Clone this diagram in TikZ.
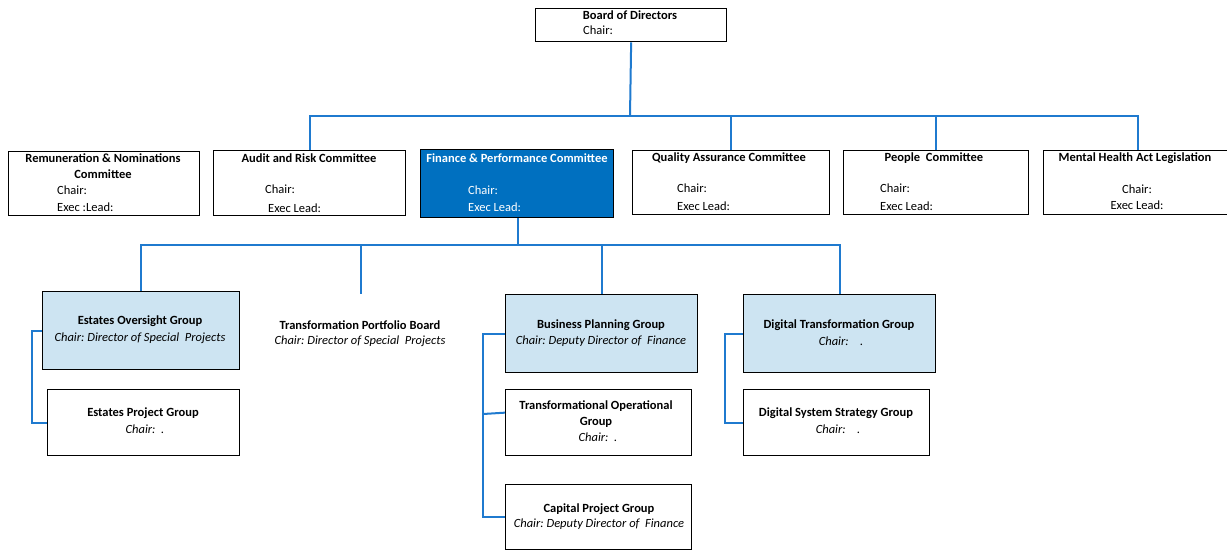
\documentclass[tikz,border=0pt]{standalone}
\usepackage{fontspec}
\setmainfont{Carlito}
\usetikzlibrary{positioning, calc}
\definecolor{azul}{HTML}{0070C0}
\definecolor{celeste}{HTML}{CDE4F2}
\definecolor{linea}{HTML}{1F7ACF}
\frenchspacing
\tikzset{
	every node/.style={
		font=\fontsize{12.5}{16}\selectfont,
		inner sep=0pt
	},
	comite/.style={
		shape=rectangle,
		anchor=north west,
		draw=black,
		line width=1.3pt
	},
	grupo/.style={
		comite,
		fill=celeste
	},
	titulo/.style={
		font=\fontsize{12.5}{16}\selectfont\bfseries,
		align=center
	},
	cargo/.style={
		anchor=west
	},
	presidente/.style={
		font=\fontsize{12.5}{16}\selectfont\itshape
	},
	conector/.style={
		draw=linea,
		line width=2pt
	}
}

\begin{document}
\begin{tikzpicture}[x=1pt, y=-1pt]
\useasboundingbox (0,0) rectangle (1227,550);
\clip (0,0) rectangle (1227,550);

% consejo
\node [comite, minimum width=191pt, minimum height=33pt] (board) at (535,8) {};
\node [titulo] (board-t) at (630,15) {Board of Directors};
\node [cargo] (board-c) at (583,30) {Chair:};

% comites
\node [comite, minimum width=191pt, minimum height=64pt] (remun) at (8,151) {};
\node [titulo] (remun-t) at (103,166) {Remuneration \& Nominations\\Committee};
\node [cargo] (remun-c) at (57,190) {Chair:};
\node [cargo] (remun-e) at (57,207) {Exec :Lead:};

\node [comite, minimum width=192pt, minimum height=65pt] (audit) at (213,150) {};
\node [titulo] (audit-t) at (309,158) {Audit and Risk Committee};
\node [cargo] (audit-c) at (265,189) {Chair:};
\node [cargo] (audit-e) at (268,208) {Exec Lead:};

\node [comite, fill=azul, minimum width=193pt, minimum height=68pt] (finance) at (420,149) {};
\node [titulo, text=white] (finance-t) at (517,158) {Finance \& Performance Committee};
\node [cargo, text=white] (finance-c) at (468,190) {Chair:};
\node [cargo, text=white] (finance-e) at (468,207) {Exec Lead:};

\node [comite, minimum width=197pt, minimum height=64pt] (quality) at (632,150) {};
\node [titulo] (quality-t) at (729,158) {Quality Assurance Committee};
\node [cargo] (quality-c) at (677,188) {Chair:};
\node [cargo] (quality-e) at (677,206) {Exec Lead:};

\node [comite, minimum width=185pt, minimum height=64pt] (people) at (843,150) {};
\node [titulo] (people-t) at (934,158) {People\ \ Committee};
\node [cargo] (people-c) at (880,188) {Chair:};
\node [cargo] (people-e) at (880,206) {Exec Lead:};

\node [comite, minimum width=188pt, minimum height=64pt] (mental) at (1043,150) {};
\node [titulo] (mental-t) at (1135,158) {Mental Health Act Legislation};
\node (mental-c) at (1137,189) {Chair:};
\node (mental-e) at (1137,205) {Exec Lead:};

% grupos
\node [grupo, minimum width=197pt, minimum height=78pt] (eog) at (42,291) {};
\node [titulo] (eog-t) at (140,321) {Estates Oversight Group};
\node [presidente] (eog-c) at (140,338) {Chair: Director of Special\ \ Projects};

\node [comite, minimum width=192pt, minimum height=66pt] (epg) at (47,389) {};
\node [titulo] (epg-t) at (143,413) {Estates Project Group};
\node [presidente] (epg-c) at (145,429) {Chair:\ \ .};

\node [titulo] (tpb-t) at (360,325) {Transformation Portfolio Board};
\node [presidente] (tpb-c) at (360,341) {Chair: Director of Special\ \ Projects};
\coordinate (tpb) at (361,294);

\node [grupo, minimum width=192pt, minimum height=78pt] (bp) at (505,294) {};
\node [titulo] (bp-t) at (601,325) {Business Planning Group};
\node [presidente] (bp-c) at (601,341) {Chair: Deputy Director of\ \ Finance};

\node [comite, minimum width=186pt, minimum height=66pt] (tog) at (505,389) {};
\node [titulo] (tog-t) at (596,414) {Transformational Operational\\Group};
\node [presidente] (tog-c) at (598,437) {Chair:\ \ .};

\node [comite, minimum width=186pt, minimum height=65pt] (cpg) at (505,484) {};
\node [titulo] (cpg-t) at (599,509) {Capital Project Group};
\node [presidente] (cpg-c) at (599,524) {Chair: Deputy Director of\ \ Finance};

\node [grupo, minimum width=192pt, minimum height=78pt] (dt) at (743,294) {};
\node [titulo] (dt-t) at (839,325) {Digital Transformation Group};
\node [presidente] (dt-c) at (841,341) {Chair:\ \ \ \ .};

\node [comite, minimum width=186pt, minimum height=66pt] (dssg) at (743,389) {};
\node [titulo] (dssg-t) at (836,413) {Digital System Strategy Group};
\node [presidente] (dssg-c) at (838,429) {Chair:\ \ \ \ .};

% conectores
\coordinate (bus1) at (630,116);
\coordinate (bus2) at (518,245);
\draw [conector] (board.south) -- (bus1);
\draw [conector] (bus1) -| (audit.north);
\draw [conector] (bus1) -| (quality.north);
\draw [conector] (bus1) -| (people.north);
\draw [conector] (bus1) -| (mental.north);

\draw [conector] (finance.south -| bus2) -- (bus2);
\draw [conector] (bus2) -| (eog.north);
\draw [conector] (bus2) -| (tpb);
\draw [conector] (bus2) -| (bp.north);
\draw [conector] (bus2) -| (dt.north);

\draw [conector] (eog.west) -- ++(-10,0) |- (epg.west);
\draw [conector] (bp.west) -- ++(-22,0) coordinate (bp-l) |- (cpg.west);
\draw [conector] (bp-l |- tog-t.west) -- ([yshift=10pt]tog.west);
\draw [conector] (dt.west) -- ++(-18,0) |- (dssg.west);

\end{tikzpicture}
\end{document}
